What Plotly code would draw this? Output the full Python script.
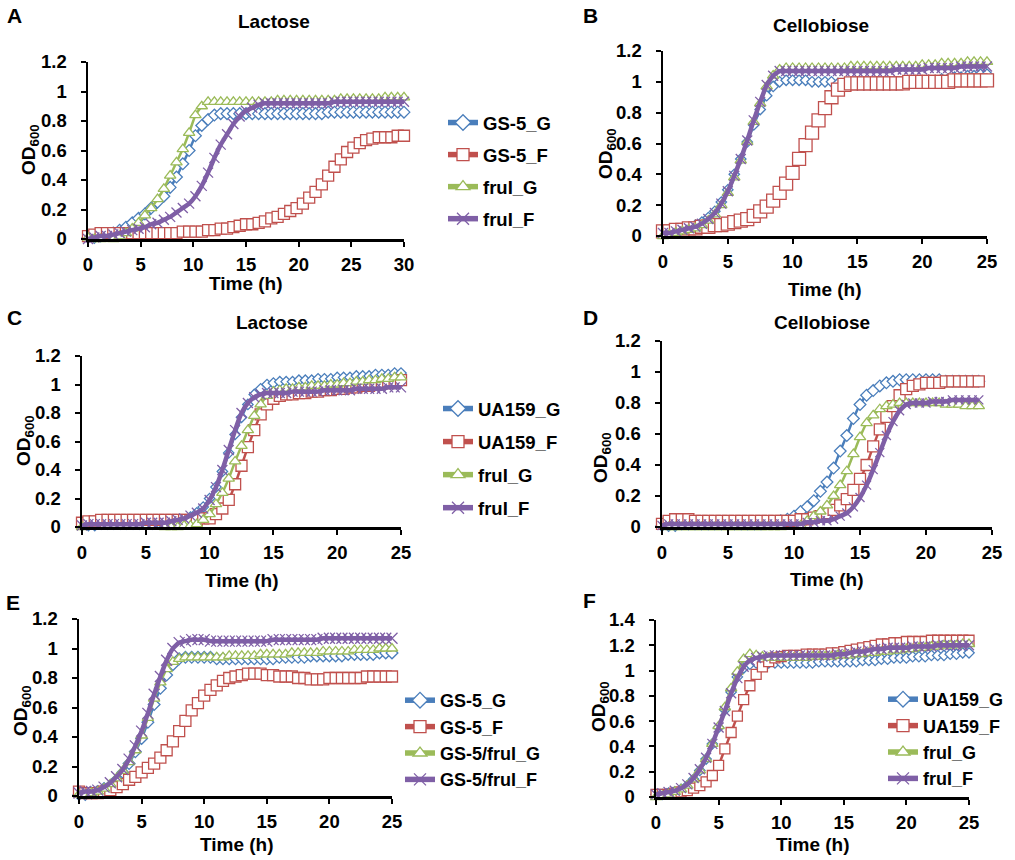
import plotly.graph_objects as go

W, H = 1015, 860
FONT = "Liberation Sans, Arial, Helvetica, sans-serif"

# ---------------- time axes (h) ----------------
T_A = [0, 0.6, 1.2, 1.8, 2.4, 3, 3.6, 4.2, 4.8, 5.4, 6, 6.6, 7.2, 7.8, 8.4, 9, 9.6,
       10.2, 10.8, 11.4, 12, 12.6, 13.2, 13.8, 14.4, 15, 15.6, 16.2, 16.8, 17.4, 18,
       18.6, 19.2, 19.8, 20.4, 21, 21.6, 22.2, 22.8, 23.4, 24, 24.6, 25.2, 25.8, 26.4,
       27, 27.6, 28.2, 28.8, 29.4, 30]
T_25 = [0, 0.5, 1, 1.5, 2, 2.5, 3, 3.5, 4, 4.5, 5, 5.5, 6, 6.5, 7, 7.5, 8, 8.5, 9, 9.5,
        10, 10.5, 11, 11.5, 12, 12.5, 13, 13.5, 14, 14.5, 15, 15.5, 16, 16.5, 17, 17.5,
        18, 18.5, 19, 19.5, 20, 20.5, 21, 21.5, 22, 22.5, 23, 23.5, 24, 24.5, 25]
T_24 = [0, 0.5, 1, 1.5, 2, 2.5, 3, 3.5, 4, 4.5, 5, 5.5, 6, 6.5, 7, 7.5, 8, 8.5, 9, 9.5,
        10, 10.5, 11, 11.5, 12, 12.5, 13, 13.5, 14, 14.5, 15, 15.5, 16, 16.5, 17, 17.5,
        18, 18.5, 19, 19.5, 20, 20.5, 21, 21.5, 22, 22.5, 23, 23.5, 24]

# ---------------- Panel A : Lactose ----------------
A_GS5_G = [0.01, 0.01, 0.02, 0.03, 0.04, 0.06, 0.08, 0.11, 0.14, 0.17,
           0.21, 0.25, 0.29, 0.35, 0.42, 0.51, 0.60, 0.70, 0.77, 0.81,
           0.84, 0.85, 0.85, 0.85, 0.85, 0.85, 0.85, 0.85, 0.85, 0.85,
           0.85, 0.85, 0.85, 0.85, 0.85, 0.85, 0.85, 0.85, 0.86, 0.86,
           0.86, 0.86, 0.86, 0.86, 0.86, 0.86, 0.86, 0.86, 0.86, 0.86, 0.86]
A_GS5_F = [0.02, 0.03, 0.04, 0.04, 0.04, 0.04, 0.04, 0.04, 0.04, 0.04,
           0.04, 0.04, 0.04, 0.04, 0.04, 0.05, 0.05, 0.05, 0.05, 0.06,
           0.06, 0.07, 0.07, 0.08, 0.09, 0.10, 0.10, 0.11, 0.12, 0.14,
           0.15, 0.17, 0.19, 0.21, 0.24, 0.28, 0.32, 0.37, 0.43, 0.49,
           0.54, 0.59, 0.62, 0.65, 0.67, 0.68, 0.69, 0.69, 0.69, 0.70, 0.70]
A_FRU_G = [0.01, 0.00, 0.00, -0.01, 0.00, 0.02, 0.04, 0.07, 0.11, 0.16,
           0.21, 0.27, 0.34, 0.43, 0.52, 0.61, 0.72, 0.84, 0.90, 0.93,
           0.93, 0.93, 0.93, 0.93, 0.93, 0.93, 0.93, 0.93, 0.93, 0.93,
           0.94, 0.94, 0.94, 0.94, 0.94, 0.94, 0.94, 0.94, 0.94, 0.94,
           0.95, 0.95, 0.95, 0.95, 0.95, 0.95, 0.95, 0.96, 0.96, 0.96, 0.96]
A_FRU_F = [0.00, 0.01, 0.02, 0.02, 0.03, 0.04, 0.05, 0.06, 0.07, 0.08,
           0.10, 0.11, 0.13, 0.15, 0.18, 0.21, 0.24, 0.29, 0.36, 0.45,
           0.55, 0.64, 0.71, 0.78, 0.83, 0.87, 0.89, 0.91, 0.92, 0.92,
           0.92, 0.92, 0.92, 0.92, 0.92, 0.92, 0.92, 0.92, 0.92, 0.93,
           0.93, 0.93, 0.93, 0.93, 0.93, 0.93, 0.93, 0.93, 0.93, 0.93, 0.93]

# ---------------- Panel B : Cellobiose ----------------
B_GS5_G = [0.01, 0.02, 0.03, 0.04, 0.05, 0.07, 0.09, 0.12, 0.16, 0.22,
           0.30, 0.40, 0.50, 0.61, 0.72, 0.82, 0.91, 0.97, 1.00, 1.01,
           1.01, 1.01, 1.01, 1.00, 1.00, 1.00, 1.00, 0.99, 0.99, 0.99,
           0.98, 0.98, 0.98, 0.98, 0.98, 0.98, 0.98, 0.99, 0.99, 1.00,
           1.00, 1.01, 1.01, 1.02, 1.02, 1.03, 1.03, 1.04, 1.04, 1.05, 1.05]
B_GS5_F = [0.03, 0.03, 0.04, 0.04, 0.05, 0.05, 0.06, 0.06, 0.07, 0.07,
           0.08, 0.09, 0.10, 0.11, 0.13, 0.16, 0.19, 0.23, 0.28, 0.34,
           0.41, 0.50, 0.59, 0.67, 0.75, 0.83, 0.90, 0.95, 0.98, 0.99,
           0.99, 0.99, 0.99, 0.99, 0.99, 0.99, 0.99, 0.99, 1.00, 1.00,
           1.00, 1.00, 1.00, 1.00, 1.00, 1.01, 1.01, 1.01, 1.01, 1.01, 1.01]
B_FRU_G = [0.00, 0.01, 0.02, 0.03, 0.04, 0.05, 0.07, 0.10, 0.14, 0.20,
           0.28, 0.38, 0.49, 0.61, 0.74, 0.86, 0.97, 1.04, 1.08, 1.09,
           1.09, 1.09, 1.09, 1.09, 1.09, 1.09, 1.09, 1.09, 1.09, 1.10,
           1.10, 1.10, 1.10, 1.10, 1.10, 1.10, 1.10, 1.10, 1.10, 1.10,
           1.11, 1.11, 1.11, 1.12, 1.12, 1.12, 1.12, 1.13, 1.13, 1.13, 1.13]
B_FRU_F = [0.02, 0.02, 0.03, 0.04, 0.05, 0.06, 0.08, 0.11, 0.15, 0.21,
           0.29, 0.39, 0.50, 0.62, 0.75, 0.87, 0.98, 1.04, 1.07, 1.07,
           1.07, 1.07, 1.07, 1.07, 1.07, 1.07, 1.07, 1.07, 1.07, 1.07,
           1.07, 1.07, 1.07, 1.07, 1.07, 1.07, 1.08, 1.08, 1.08, 1.08,
           1.08, 1.09, 1.09, 1.09, 1.09, 1.09, 1.10, 1.10, 1.10, 1.10, 1.10]

# ---------------- Panel C : Lactose ----------------
C_UA_G = [0.01, 0.01, 0.01, 0.02, 0.02, 0.02, 0.02, 0.02, 0.02, 0.02,
          0.02, 0.02, 0.03, 0.03, 0.03, 0.04, 0.05, 0.07, 0.10, 0.14,
          0.20, 0.28, 0.39, 0.52, 0.65, 0.77, 0.86, 0.93, 0.97, 1.00,
          1.01, 1.02, 1.02, 1.02, 1.03, 1.03, 1.03, 1.04, 1.04, 1.04,
          1.05, 1.05, 1.05, 1.06, 1.06, 1.06, 1.07, 1.07, 1.07, 1.08, 1.08]
C_UA_F = [0.03, 0.04, 0.04, 0.05, 0.05, 0.05, 0.05, 0.05, 0.05, 0.05,
          0.05, 0.05, 0.05, 0.05, 0.05, 0.05, 0.05, 0.05, 0.05, 0.06,
          0.06, 0.09, 0.13, 0.19, 0.30, 0.43, 0.56, 0.68, 0.79, 0.86,
          0.90, 0.92, 0.93, 0.93, 0.94, 0.94, 0.95, 0.95, 0.96, 0.96,
          0.97, 0.97, 0.98, 0.98, 0.99, 0.99, 1.00, 1.01, 1.01, 1.02, 1.03]
C_FRU_G = [0.00, -0.01, -0.01, -0.01, -0.01, -0.01, -0.01, -0.01, -0.01, -0.01,
           -0.01, -0.01, -0.01, 0.00, 0.00, 0.00, 0.01, 0.01, 0.02, 0.05,
           0.09, 0.16, 0.24, 0.34, 0.46, 0.57, 0.68, 0.78, 0.86, 0.92,
           0.95, 0.96, 0.97, 0.97, 0.98, 0.98, 0.99, 0.99, 0.99, 1.00,
           1.00, 1.01, 1.01, 1.02, 1.02, 1.03, 1.03, 1.04, 1.04, 1.05, 1.05]
C_FRU_F = [0.01, 0.02, 0.02, 0.02, 0.02, 0.02, 0.02, 0.02, 0.02, 0.02,
           0.03, 0.03, 0.03, 0.03, 0.04, 0.05, 0.06, 0.08, 0.10, 0.13,
           0.19, 0.28, 0.40, 0.54, 0.68, 0.80, 0.87, 0.91, 0.93, 0.94,
           0.94, 0.94, 0.94, 0.95, 0.95, 0.95, 0.95, 0.95, 0.96, 0.96,
           0.96, 0.96, 0.96, 0.97, 0.97, 0.97, 0.97, 0.97, 0.98, 0.98, 0.98]

# ---------------- Panel D : Cellobiose ----------------
D_UA_G = [0.01, 0.01, 0.01, 0.02, 0.02, 0.02, 0.02, 0.02, 0.02, 0.02,
          0.02, 0.02, 0.02, 0.02, 0.02, 0.02, 0.03, 0.03, 0.04, 0.05,
          0.07, 0.10, 0.13, 0.17, 0.23, 0.29, 0.38, 0.49, 0.59, 0.70,
          0.79, 0.85, 0.88, 0.91, 0.93, 0.94, 0.95, 0.95, 0.95, 0.95,
          0.95, 0.95, 0.95, 0.94, 0.94, 0.94, 0.94, 0.94, 0.94]
D_UA_F = [0.02, 0.04, 0.05, 0.05, 0.05, 0.04, 0.04, 0.04, 0.04, 0.04,
          0.04, 0.04, 0.04, 0.04, 0.04, 0.04, 0.04, 0.04, 0.04, 0.04,
          0.04, 0.05, 0.05, 0.06, 0.07, 0.09, 0.11, 0.14, 0.18, 0.24,
          0.31, 0.40, 0.52, 0.63, 0.71, 0.78, 0.85, 0.89, 0.91, 0.92,
          0.93, 0.93, 0.93, 0.94, 0.94, 0.94, 0.94, 0.94, 0.94]
D_FRU_G = [-0.01, 0.00, 0.00, 0.00, 0.00, 0.00, 0.00, 0.00, 0.00, 0.00,
           0.00, 0.00, 0.00, 0.00, 0.00, 0.00, 0.00, 0.00, 0.00, -0.01,
           -0.02, 0.01, 0.04, 0.07, 0.10, 0.14, 0.20, 0.27, 0.36, 0.47,
           0.58, 0.67, 0.72, 0.76, 0.78, 0.79, 0.80, 0.80, 0.80, 0.80,
           0.80, 0.80, 0.80, 0.79, 0.79, 0.79, 0.78, 0.78, 0.78]
D_FRU_F = [0.01, 0.02, 0.02, 0.02, 0.02, 0.02, 0.02, 0.02, 0.02, 0.02,
           0.02, 0.02, 0.02, 0.02, 0.02, 0.02, 0.02, 0.02, 0.02, 0.02,
           0.02, 0.02, 0.03, 0.03, 0.04, 0.04, 0.05, 0.07, 0.09, 0.13,
           0.19, 0.27, 0.37, 0.48, 0.59, 0.68, 0.75, 0.79, 0.80, 0.80,
           0.80, 0.81, 0.81, 0.81, 0.82, 0.82, 0.82, 0.82, 0.82]

# ---------------- Panel E ----------------
E_GS5_G = [0.01, 0.01, 0.02, 0.03, 0.05, 0.07, 0.11, 0.16, 0.22, 0.30,
           0.39, 0.50, 0.62, 0.73, 0.82, 0.89, 0.93, 0.94, 0.94, 0.94,
           0.94, 0.94, 0.93, 0.93, 0.93, 0.93, 0.93, 0.93, 0.93, 0.93,
           0.93, 0.93, 0.94, 0.94, 0.94, 0.94, 0.94, 0.95, 0.95, 0.95,
           0.95, 0.95, 0.95, 0.96, 0.96, 0.96, 0.96, 0.96, 0.97, 0.97, 0.97]
E_GS5_F = [0.03, 0.02, 0.02, 0.02, 0.03, 0.04, 0.06, 0.08, 0.11, 0.13,
           0.16, 0.19, 0.22, 0.26, 0.31, 0.37, 0.44, 0.51, 0.58, 0.63,
           0.68, 0.72, 0.75, 0.78, 0.80, 0.81, 0.82, 0.83, 0.83, 0.83,
           0.82, 0.82, 0.81, 0.81, 0.81, 0.80, 0.80, 0.79, 0.79, 0.79,
           0.80, 0.80, 0.80, 0.80, 0.80, 0.80, 0.81, 0.81, 0.81, 0.81, 0.81]
E_CMP_G = [0.01, 0.01, 0.02, 0.03, 0.05, 0.08, 0.12, 0.17, 0.23, 0.31,
           0.41, 0.53, 0.66, 0.77, 0.86, 0.91, 0.93, 0.94, 0.94, 0.94,
           0.94, 0.94, 0.94, 0.94, 0.95, 0.95, 0.95, 0.95, 0.95, 0.96,
           0.96, 0.96, 0.96, 0.96, 0.97, 0.97, 0.97, 0.97, 0.97, 0.98,
           0.98, 0.98, 0.98, 0.98, 0.99, 0.99, 0.99, 0.99, 1.00, 1.00, 1.00]
E_CMP_F = [0.02, 0.03, 0.03, 0.04, 0.06, 0.09, 0.13, 0.18, 0.25, 0.34,
           0.44, 0.56, 0.69, 0.81, 0.92, 1.00, 1.04, 1.05, 1.06, 1.06,
           1.06, 1.05, 1.05, 1.05, 1.05, 1.05, 1.05, 1.05, 1.05, 1.05,
           1.05, 1.06, 1.06, 1.06, 1.06, 1.06, 1.06, 1.06, 1.06, 1.07,
           1.07, 1.07, 1.07, 1.07, 1.07, 1.07, 1.07, 1.07, 1.07, 1.07, 1.07]

# ---------------- Panel F ----------------
F_UA_G = [0.02, 0.02, 0.03, 0.04, 0.06, 0.09, 0.14, 0.21, 0.30, 0.42,
          0.55, 0.69, 0.83, 0.95, 1.02, 1.05, 1.06, 1.06, 1.06, 1.06,
          1.06, 1.06, 1.06, 1.06, 1.06, 1.06, 1.07, 1.07, 1.07, 1.07,
          1.07, 1.07, 1.07, 1.08, 1.08, 1.08, 1.09, 1.09, 1.10, 1.10,
          1.10, 1.11, 1.11, 1.11, 1.12, 1.12, 1.12, 1.13, 1.13, 1.14, 1.14]
F_UA_F = [0.02, 0.02, 0.02, 0.03, 0.04, 0.05, 0.07, 0.09, 0.12, 0.17,
          0.25, 0.38, 0.51, 0.64, 0.77, 0.88, 0.97, 1.03, 1.07, 1.10,
          1.11, 1.12, 1.12, 1.12, 1.13, 1.13, 1.13, 1.13, 1.14, 1.14,
          1.15, 1.16, 1.17, 1.18, 1.19, 1.20, 1.21, 1.21, 1.22, 1.22,
          1.23, 1.23, 1.23, 1.23, 1.24, 1.24, 1.24, 1.24, 1.24, 1.24, 1.24]
F_FRU_G = [0.00, 0.01, 0.02, 0.04, 0.06, 0.09, 0.14, 0.21, 0.30, 0.42,
           0.56, 0.71, 0.86, 0.99, 1.09, 1.13, 1.12, 1.11, 1.10, 1.10,
           1.10, 1.10, 1.10, 1.10, 1.10, 1.11, 1.11, 1.11, 1.11, 1.12,
           1.12, 1.12, 1.13, 1.13, 1.14, 1.14, 1.15, 1.15, 1.16, 1.16,
           1.17, 1.17, 1.18, 1.18, 1.19, 1.19, 1.20, 1.20, 1.20, 1.21, 1.21]
F_FRU_F = [0.02, 0.03, 0.04, 0.05, 0.07, 0.10, 0.15, 0.22, 0.31, 0.42,
           0.55, 0.68, 0.82, 0.94, 1.03, 1.08, 1.10, 1.11, 1.12, 1.12,
           1.12, 1.12, 1.12, 1.12, 1.12, 1.12, 1.12, 1.12, 1.12, 1.13,
           1.13, 1.14, 1.15, 1.15, 1.16, 1.17, 1.17, 1.18, 1.18, 1.18,
           1.18, 1.19, 1.19, 1.19, 1.19, 1.20, 1.20, 1.20, 1.20, 1.20, 1.20]

# ---------------- labels and ticks ----------------
LEG_A = ["GS-5_G", "GS-5_F", "fruI_G", "fruI_F"]
LEG_C = ["UA159_G", "UA159_F", "fruI_G", "fruI_F"]
LEG_E = ["GS-5_G", "GS-5_F", "GS-5/fruI_G", "GS-5/fruI_F"]
LEG_F = ["UA159_G", "UA159_F", "fruI_G", "fruI_F"]
X_TICKS_30 = [0, 5, 10, 15, 20, 25, 30]
X_TICKS_25 = [0, 5, 10, 15, 20, 25]
Y_TICKS_12 = [0, 0.2, 0.4, 0.6, 0.8, 1, 1.2]
Y_TICKS_14 = [0, 0.2, 0.4, 0.6, 0.8, 1, 1.2, 1.4]

# ---------------- styling ----------------
COLORS = ["#4A7EBB", "#C0504D", "#9BBB59", "#7F5FA6"]
SYMBOLS = ["diamond", "square", "triangle-up", "x-thin"]
LINE_W = [2.5, 2.5, 2.5, 4.5]


def dom_x(a, b):
    return [a / W, b / W]


def dom_y(bottom, top):
    return [1 - bottom / H, 1 - top / H]


def bold(size):
    return dict(family=FONT, size=size, color="black", weight="bold")


PANELS = [
    dict(t=T_A, s=[A_GS5_G, A_GS5_F, A_FRU_G, A_FRU_F], xd=(88, 404), yd=(239, 62),
         xmax=30, xt=X_TICKS_30, ymax=1.2, yt=Y_TICKS_12, ms=[9, 11, 10, 10],
         letter=("A", 14, 15), title=("Lactose", 274, 22), xlab=(246, 283), ylab=(30, 150)),
    dict(t=T_25, s=[B_GS5_G, B_GS5_F, B_FRU_G, B_FRU_F], xd=(663, 987), yd=(236, 51),
         xmax=25, xt=X_TICKS_25, ymax=1.2, yt=Y_TICKS_12, ms=[8, 13, 10, 10],
         letter=("B", 590, 15), title=("Cellobiose", 821, 25), xlab=(825, 289), ylab=(607, 154)),
    dict(t=T_25, s=[C_UA_G, C_UA_F, C_FRU_G, C_FRU_F], xd=(82, 401), yd=(527, 356),
         xmax=25, xt=X_TICKS_25, ymax=1.2, yt=Y_TICKS_12, ms=[8, 11, 10, 10],
         letter=("C", 14, 318), title=("Lactose", 272, 323), xlab=(242, 580), ylab=(25, 441)),
    dict(t=T_24, s=[D_UA_G, D_UA_F, D_FRU_G, D_FRU_F], xd=(662, 992), yd=(527, 341),
         xmax=25, xt=X_TICKS_25, ymax=1.2, yt=Y_TICKS_12, ms=[9, 11, 10, 9],
         letter=("D", 590, 318), title=("Cellobiose", 822, 322), xlab=(827, 579), ylab=(602, 458)),
    dict(t=T_25, s=[E_GS5_G, E_GS5_F, E_CMP_G, E_CMP_F], xd=(79, 392), yd=(796, 619),
         xmax=25, xt=X_TICKS_25, ymax=1.2, yt=Y_TICKS_12, ms=[9, 11, 10, 11],
         letter=("E", 13, 602), title=None, xlab=(237, 844), ylab=(22, 711)),
    dict(t=T_25, s=[F_UA_G, F_UA_F, F_FRU_G, F_FRU_F], xd=(656, 969), yd=(797, 620),
         xmax=25, xt=X_TICKS_25, ymax=1.4, yt=Y_TICKS_14, ms=[8, 10, 10, 10],
         letter=("F", 589, 600), title=None, xlab=(813, 844), ylab=(600, 707)),
]

# legend definitions: (legend id, panel index, names, left px, top px, group gap, font size)
LEGENDS = [
    ("legend", 0, LEG_A, 443, 104, 5, 18.5),
    ("legend2", 2, LEG_C, 438, 390, 6, 18.5),
    ("legend3", 4, LEG_E, 400, 682, 0, 18),
    ("legend4", 5, LEG_F, 883, 681, 0, 18),
]

fig = go.Figure()
layout = dict(width=W, height=H, autosize=False,
              margin=dict(l=0, r=0, t=0, b=0, pad=0, autoexpand=False),
              paper_bgcolor="white", plot_bgcolor="white", showlegend=True,
              font=bold(18), hovermode=False)
annotations = []

for i, p in enumerate(PANELS):
    suf = "" if i == 0 else str(i + 1)
    for k, vals in enumerate(p["s"]):
        if k < 3:
            marker = dict(symbol=SYMBOLS[k], size=p["ms"][k], color="white",
                          line=dict(color=COLORS[k], width=1.3))
        else:
            marker = dict(symbol=SYMBOLS[k], size=p["ms"][k], color=COLORS[k],
                          line=dict(color=COLORS[k], width=1.3))
        fig.add_trace(go.Scatter(
            x=p["t"], y=vals, xaxis="x" + suf, yaxis="y" + suf,
            mode="lines+markers", line=dict(color=COLORS[k], width=LINE_W[k],
                                            shape="spline", smoothing=0.4),
            marker=marker, cliponaxis=False, showlegend=False, hoverinfo="skip"))

    axis_common = dict(showline=True, linecolor="black", linewidth=2.5, ticks="outside",
                       ticklen=5, tickwidth=2, tickcolor="black", showgrid=False,
                       zeroline=False, tickfont=bold(18.5), fixedrange=True, tickmode="array",
                       automargin=False)
    layout["xaxis" + suf] = dict(domain=dom_x(*p["xd"]), anchor="y" + suf,
                                 range=[0, p["xmax"]], tickvals=p["xt"],
                                 ticklabelstandoff=2, **axis_common)
    layout["yaxis" + suf] = dict(domain=dom_y(*p["yd"]), anchor="x" + suf,
                                 range=[0, p["ymax"]], tickvals=p["yt"],
                                 ticklabelstandoff=10, **axis_common)

    L, lx, ly = p["letter"]
    annotations.append(dict(text=L, x=lx / W, y=1 - ly / H, xref="paper", yref="paper",
                            showarrow=False, xanchor="center", yanchor="middle", font=bold(21)))
    if p["title"]:
        tt, tx, ty = p["title"]
        annotations.append(dict(text=tt, x=tx / W, y=1 - ty / H, xref="paper", yref="paper",
                                showarrow=False, xanchor="center", yanchor="middle",
                                font=bold(19)))
    annotations.append(dict(text="Time (h)", x=p["xlab"][0] / W, y=1 - p["xlab"][1] / H,
                            xref="paper", yref="paper", showarrow=False, xanchor="center",
                            yanchor="middle", font=bold(19)))
    annotations.append(dict(text="OD<sub>600</sub>", x=p["ylab"][0] / W, y=1 - p["ylab"][1] / H,
                            xref="paper", yref="paper", showarrow=False, xanchor="center",
                            yanchor="middle", textangle=-90, font=bold(19)))

for lid, pi, names, lx, ly, gap, fs in LEGENDS:
    suf = "" if pi == 0 else str(pi + 1)
    for k, nm in enumerate(names):
        if k < 3:
            marker = dict(symbol=SYMBOLS[k], size=12, color="white",
                          line=dict(color=COLORS[k], width=1.3))
        else:
            marker = dict(symbol=SYMBOLS[k], size=12, color=COLORS[k],
                          line=dict(color=COLORS[k], width=1.3))
        fig.add_trace(go.Scatter(
            x=[None], y=[None], xaxis="x" + suf, yaxis="y" + suf, name=nm,
            mode="lines+markers", line=dict(color=COLORS[k], width=5.5),
            marker=marker, legend=lid, legendgroup=f"{lid}_{k}", showlegend=True,
            hoverinfo="skip"))
    layout[lid] = dict(x=lx / W, y=1 - ly / H, xanchor="left", yanchor="top",
                       bgcolor="rgba(0,0,0,0)", borderwidth=0, font=bold(fs),
                       traceorder="grouped", tracegroupgap=gap, itemwidth=30,
                       itemclick=False, itemdoubleclick=False)

layout["annotations"] = annotations
fig.update_layout(**layout)

fig.write_html("out.html", config={"displayModeBar": False, "staticPlot": True},
               post_script="document.body.style.margin='0';")
